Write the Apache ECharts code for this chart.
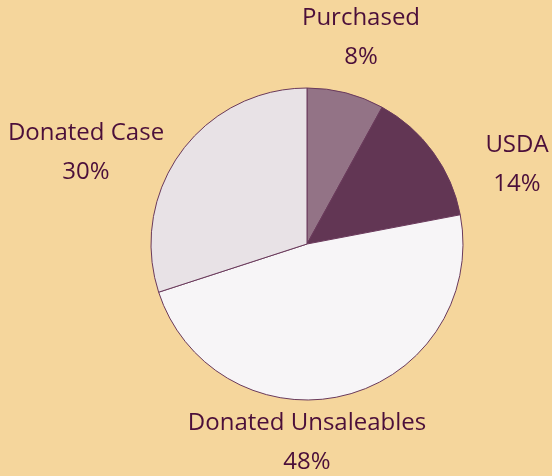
<!DOCTYPE html>
<html>
<head>
<meta charset="utf-8">
<script src="https://cdn.jsdelivr.net/npm/echarts@6/dist/echarts.min.js"></script>
<style>
  html, body { margin: 0; padding: 0; background: #f5d69c; }
  #chart { width: 552px; height: 476px; }
</style>
</head>
<body>
<div id="chart"></div>
<script>
  var categories = ['Purchased', 'USDA', 'Donated Unsaleables', 'Donated Case'];
  var shares = [8, 14, 48, 30];
  var sliceColors = ['#937386', '#623654', '#f7f5f7', '#e8e2e6'];

  // label spots (centre of the two-line block)
  var labelSpots = [[361, 38], [517, 165], [307, 443], [86, 153]];

  var chart = echarts.init(document.getElementById('chart'));

  var data = [];
  for (var i = 0; i < categories.length; i++) {
    data.push({ name: categories[i], value: shares[i], itemStyle: { color: sliceColors[i] } });
  }

  chart.setOption({
    backgroundColor: '#f5d69c',
    animation: false,
    series: [{
      type: 'pie',
      center: [307, 244],
      radius: 156,
      startAngle: 90,
      clockwise: true,
      percentPrecision: 0,
      data: data,
      itemStyle: { borderColor: '#6a3a5c', borderWidth: 1 },
      label: {
        show: true,
        position: 'outside',
        alignTo: 'none',
        overflow: 'none',
        width: 300,
        formatter: '{b}\n{d}%',
        color: '#4b0f3a',
        fontFamily: 'Open Sans',
        fontSize: 24,
        lineHeight: 39,
        align: 'center'
      },
      labelLine: { show: false },
      labelLayout: function (p) {
        var s = labelSpots[p.dataIndex];
        return { x: s[0], y: s[1], align: 'center', verticalAlign: 'middle' };
      }
    }]
  });
</script>
</body>
</html>
